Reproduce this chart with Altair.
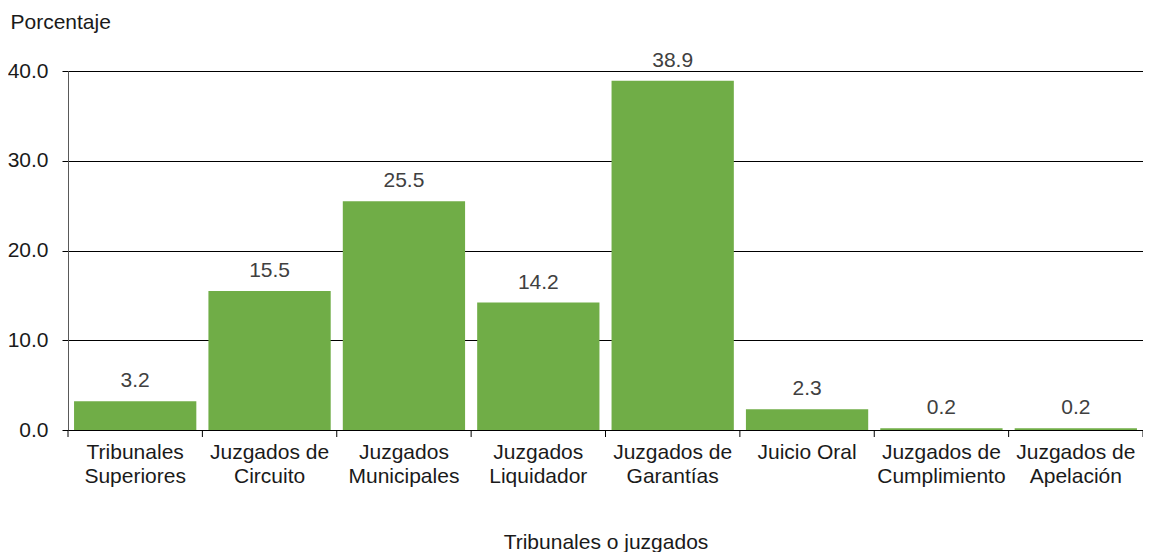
import altair as alt
import pandas as pd

categories = [
    "Tribunales|Superiores",
    "Juzgados de|Circuito",
    "Juzgados|Municipales",
    "Juzgados|Liquidador",
    "Juzgados de|Garantías",
    "Juicio Oral",
    "Juzgados de|Cumplimiento",
    "Juzgados de|Apelación",
]
values = [3.2, 15.5, 25.5, 14.2, 38.9, 2.3, 0.2, 0.2]
y_ticks = [0, 10, 20, 30, 40]

df = pd.DataFrame({"cat": categories, "val": values})

FONT = "Liberation Sans"
GREEN = "#70AD47"
FS = 21

x_enc = alt.X(
    "cat:N",
    sort=categories,
    scale=alt.Scale(paddingInner=0, paddingOuter=0),
    axis=alt.Axis(
        title="Tribunales o juzgados",
        labelExpr="split(datum.label, '|')",
        labelAngle=0,
        labelAlign="center",
        labelBaseline="top",
        labelFontSize=FS,
        labelLineHeight=24,
        labelPadding=11,
        labelColor="#1a1a1a",
        labelFont=FONT,
        labelOverlap=False,
        ticks=False,
        domainColor="black",
        domainWidth=1,
        titleFont=FONT,
        titleFontSize=FS,
        titleFontWeight="normal",
        titleColor="#1a1a1a",
        titleBaseline="middle",
        titleY=112,
    ),
)

y_enc = alt.Y(
    "val:Q",
    scale=alt.Scale(domain=[0, 40], nice=False),
    axis=alt.Axis(
        title="Porcentaje",
        titleAngle=0,
        titleAlign="left",
        titleBaseline="middle",
        titleX=-58,
        titleY=-49,
        titleFont=FONT,
        titleFontSize=FS,
        titleFontWeight="normal",
        titleColor="#1a1a1a",
        values=y_ticks,
        format=".1f",
        labelFont=FONT,
        labelFontSize=FS,
        labelColor="#1a1a1a",
        labelPadding=14,
        tickSize=6,
        tickColor="black",
        domainColor="#595959",
        grid=True,
        gridColor="black",
        gridWidth=1,
    ),
)

bars = alt.Chart(df).mark_bar(color=GREEN, width={"band": 0.91}).encode(x=x_enc, y=y_enc)

labels = alt.Chart(df).mark_text(
    dy=-20, baseline="middle", align="center", fontSize=FS, font=FONT, color="#404040"
).encode(
    x=alt.X("cat:N", sort=categories),
    y=alt.Y("val:Q"),
    text=alt.Text("val:Q", format=".1f"),
)

ticks = alt.Chart(df).mark_rule(color="black").encode(
    x=alt.X("cat:N", sort=categories, bandPosition=0),
    y=alt.value(359),
    y2=alt.value(366),
)

last_tick = alt.Chart(df).transform_filter(
    alt.datum.cat == categories[-1]
).mark_rule(color="black").encode(
    x=alt.X("cat:N", sort=categories, bandPosition=1),
    y=alt.value(359),
    y2=alt.value(366),
)

chart = alt.layer(bars, labels, ticks, last_tick).properties(
    width=1075,
    height=359,
    autosize=alt.AutoSizeParams(type="none"),
    padding={"left": 60, "top": 63, "right": 0, "bottom": 122},
).configure_view(stroke=None).configure(font=FONT, background="white")

chart.save("out.html", embed_options={"renderer": "svg", "actions": False})
